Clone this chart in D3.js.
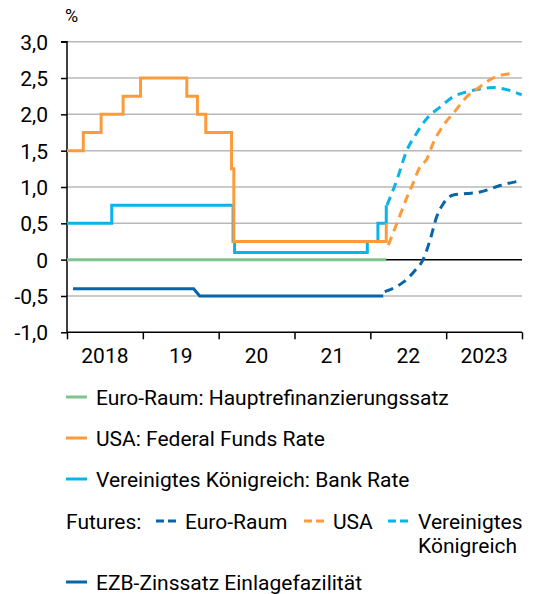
<!DOCTYPE html>
<html><head><meta charset="utf-8">
<script src="https://cdn.jsdelivr.net/npm/d3@7"></script>
<style>
html,body{margin:0;padding:0;background:#fff;}
svg{display:block;}
text{font-family:Roboto,"Open Sans",sans-serif;fill:#000;}
</style></head>
<body>
<svg id="c" width="534" height="594"></svg>
<script>
// ---- data (decimal years, percent) ----
const yTicks = [-1.0,-0.5,0,0.5,1.0,1.5,2.0,2.5,3.0];
const yTickLabels = ["-1,0","-0,5","0","0,5","1,0","1,5","2,0","2,5","3,0"];
const yearBounds = [2018,2019,2020,2021,2022,2023,2024];
const yearLabels = ["2018","19","20","21","22","2023"];

const mroDates = [2018.0, 2022.21];
const mroValues = [0, 0];

const fedDates = [2018.0,2018.215,2018.45,2018.74,2018.97,2019.58,2019.72,2019.83,2020.17,2020.20,2022.21];
const fedValues = [1.5,1.75,2.0,2.25,2.5,2.25,2.0,1.75,1.25,0.25,0.5];

const boeDates = [2018.0,2018.59,2020.19,2020.21,2021.96,2022.10,2022.21];
const boeValues = [0.5,0.75,0.25,0.1,0.25,0.5,0.75];

const depoDates = [2018.08,2019.67,2019.75,2022.17];
const depoValues = [-0.4,-0.4,-0.5,-0.5];

const futEuroDates = [2022.19,2022.435,2022.589,2022.70,2022.787,2022.875,2022.962,2023.094,2023.27,2023.446,2023.71,2023.996];
const futEuroValues = [-0.44,-0.31,-0.15,0.01,0.27,0.59,0.77,0.89,0.91,0.93,1.02,1.09];

const futUsaDates = [2022.237,2022.365,2022.48,2022.563,2022.655,2022.743,2022.827,2022.985,2023.09,2023.27,2023.446,2023.618,2023.855];
const futUsaValues = [0.2,0.54,0.85,1.05,1.28,1.38,1.6,1.88,2.01,2.24,2.38,2.5,2.56];

const futUkDates = [2022.22,2022.348,2022.48,2022.61,2022.743,2022.919,2023.09,2023.27,2023.446,2023.618,2023.80,2023.996];
const futUkValues = [0.75,1.09,1.5,1.74,1.94,2.10,2.24,2.31,2.35,2.37,2.34,2.27];

const legendItems = ["Euro-Raum: Hauptrefinanzierungssatz","USA: Federal Funds Rate","Vereinigtes Königreich: Bank Rate"];
const futuresLabels = ["Euro-Raum","USA","Vereinigtes"];
const lastLegend = "EZB-Zinssatz Einlagefazilität";

// ---- styles ----
const C = {green:"#7fc48f", orange:"#fd9b3b", light:"#0bb4e8", dark:"#0865a8", grid:"#b8b8b8"};
const fs = "21px";

const svg = d3.select("#c");
const x = d3.scaleLinear().domain([2018,2024]).range([67,522]);
const y = d3.scaleLinear().domain([-1,3]).range([332.3,41.7]);

// gridlines
svg.append("g").selectAll("line").data(yTicks.filter(v=>v!==-1 && v!==0)).join("line")
  .attr("x1",x(2018)).attr("x2",x(2024)).attr("y1",d=>y(d)).attr("y2",d=>y(d))
  .attr("stroke",C.grid).attr("stroke-width",1.5);
// zero line
svg.append("line").attr("x1",x(2018)).attr("x2",x(2024)).attr("y1",y(0)).attr("y2",y(0))
  .attr("stroke","#000").attr("stroke-width",1.5);

// y axis
const yAxis = d3.axisLeft(y).tickValues(yTicks).tickSize(6).tickFormat((d,i)=>yTickLabels[i]);
const ga = svg.append("g").attr("transform",`translate(${x(2018)},0)`).call(yAxis);
ga.select(".domain").attr("stroke","#000").attr("stroke-width",1.5).attr("d",`M-6,${y(3)}H0V${y(-1)}`);
ga.selectAll(".tick line").attr("stroke","#000").attr("stroke-width",1.5);
ga.selectAll(".tick text").attr("x",-19).attr("dy","0.36em").style("font-size",fs).style("font-family","Roboto").attr("fill","#000");

// x axis
const xAxis = d3.axisBottom(x).tickValues(yearBounds).tickSize(7).tickFormat("");
const gx = svg.append("g").attr("transform",`translate(0,${y(-1)})`).call(xAxis);
gx.select(".domain").attr("stroke","#000").attr("stroke-width",1.5).attr("d",`M${x(2018)},0H${x(2024)}`);
gx.selectAll(".tick line").attr("stroke","#000").attr("stroke-width",1.5);
svg.append("g").selectAll("text").data(yearLabels).join("text")
  .attr("x",(d,i)=>x(yearBounds[i]+0.5)).attr("y",363).attr("text-anchor","middle")
  .style("font-size",fs).text(d=>d);

svg.append("text").attr("x",65).attr("y",22).style("font-size","18px").text("%");

// series
const zip = (a,b)=>a.map((d,i)=>[d,b[i]]);
const step = d3.line().x(d=>x(d[0])).y(d=>y(d[1])).curve(d3.curveStepAfter);
const lin = d3.line().x(d=>x(d[0])).y(d=>y(d[1]));
const smooth = d3.line().x(d=>x(d[0])).y(d=>y(d[1])).curve(d3.curveMonotoneX);

svg.append("path").attr("d",lin(zip(mroDates,mroValues))).attr("fill","none").attr("stroke",C.green).attr("stroke-width",3);
svg.append("path").attr("d",lin(zip(depoDates,depoValues))).attr("fill","none").attr("stroke",C.dark).attr("stroke-width",3);
svg.append("path").attr("d",step(zip(boeDates,boeValues))).attr("fill","none").attr("stroke",C.light).attr("stroke-width",3);
svg.append("path").attr("d",step(zip(fedDates,fedValues))).attr("fill","none").attr("stroke",C.orange).attr("stroke-width",3);

const dash = "9,6";
svg.append("path").attr("d",smooth(zip(futEuroDates,futEuroValues))).attr("fill","none").attr("stroke",C.dark).attr("stroke-width",3).attr("stroke-dasharray",dash);
svg.append("path").attr("d",smooth(zip(futUkDates,futUkValues))).attr("fill","none").attr("stroke",C.light).attr("stroke-width",3).attr("stroke-dasharray",dash);
svg.append("path").attr("d",smooth(zip(futUsaDates,futUsaValues))).attr("fill","none").attr("stroke",C.orange).attr("stroke-width",3).attr("stroke-dasharray",dash);

// legend
const lcols = [C.green,C.orange,C.light];
const ly = [397,438,479];
legendItems.forEach((t,i)=>{
  svg.append("line").attr("x1",66).attr("x2",87).attr("y1",ly[i]).attr("y2",ly[i]).attr("stroke",lcols[i]).attr("stroke-width",3);
  svg.append("text").attr("x",96).attr("y",ly[i]).attr("dy","0.36em").style("font-size",fs).text(t);
});
const fy = 521;
svg.append("text").attr("x",66).attr("y",fy).attr("dy","0.36em").style("font-size",fs).text("Futures:");
const fx = [[156,185,C.dark],[304,333,C.orange],[388,418,C.light]];
futuresLabels.forEach((t,i)=>{
  svg.append("line").attr("x1",fx[i][0]).attr("x2",fx[i][0]+21).attr("y1",fy).attr("y2",fy).attr("stroke",fx[i][2]).attr("stroke-width",3).attr("stroke-dasharray","8,4");
  svg.append("text").attr("x",fx[i][1]).attr("y",fy).attr("dy","0.36em").style("font-size",fs).text(t);
});
svg.append("text").attr("x",418).attr("y",545).attr("dy","0.36em").style("font-size",fs).text("Königreich");
svg.append("line").attr("x1",66).attr("x2",87).attr("y1",582).attr("y2",582).attr("stroke",C.dark).attr("stroke-width",3);
svg.append("text").attr("x",96).attr("y",582).attr("dy","0.36em").style("font-size",fs).text(lastLegend);
</script>
</body></html>
